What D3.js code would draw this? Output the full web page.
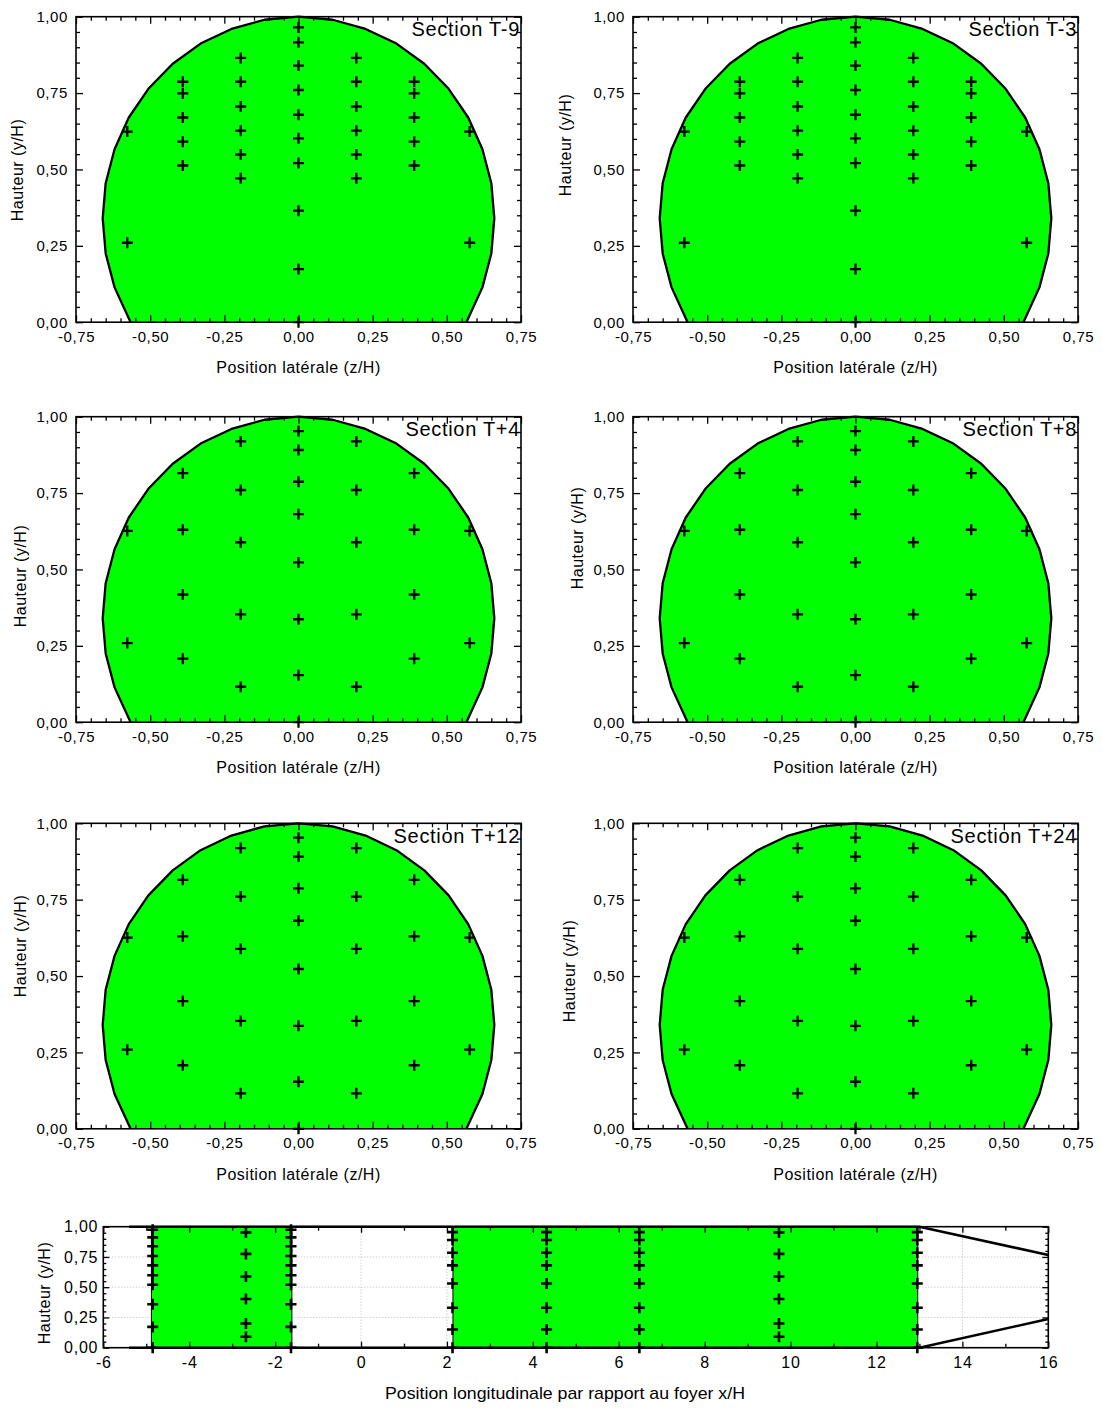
<!DOCTYPE html>
<html><head><meta charset="utf-8">
<script src="https://cdn.jsdelivr.net/npm/d3@7"></script>
<style>
body{margin:0;background:#fff;}
svg{display:block;font-family:"Liberation Sans",Arial,sans-serif;}
</style></head><body>
<svg id="chart" width="1102" height="1408"></svg>
<script>
// ---------- DATA ----------
const sectionNames = ["Section T-9","Section T-3","Section T+4","Section T+8","Section T+12","Section T+24"];
const sectionProfile = ["A","A","B","B","B","B"];
const latTicks = [-0.75,-0.5,-0.25,0,0.25,0.5,0.75];
const heightTicks = [0,0.25,0.5,0.75,1];
// section outline (z/H, y/H)
const outlineZ = [-0.566,-0.620,-0.650,-0.660,-0.650,-0.620,-0.572,-0.506,-0.424,-0.330,-0.226,-0.115,0,0.115,0.226,0.330,0.424,0.506,0.572,0.620,0.650,0.660,0.650,0.620,0.566];
const outlineY = [0,0.114,0.225,0.340,0.455,0.566,0.670,0.764,0.846,0.912,0.960,0.990,1.0,0.990,0.960,0.912,0.846,0.764,0.670,0.566,0.455,0.340,0.225,0.114,0];
// probe columns (lateral positions)
const probeZ = [0, 0.195, 0.39, 0.577];
// profile A (T-9, T-3): heights per column
const heightsA0 = [0.965,0.916,0.840,0.760,0.679,0.602,0.521,0.365,0.174,0];
const heightsA1 = [0.865,0.787,0.706,0.627,0.549,0.471];
const heightsA2 = [0.787,0.749,0.670,0.591,0.513];
const heightsA3 = [0.624,0.260];
// profile B (T+4 ... T+24)
const heightsB0 = [0.953,0.891,0.787,0.681,0.523,0.337,0.154,0];
const heightsB1 = [0.919,0.760,0.589,0.353,0.116];
const heightsB2 = [0.815,0.630,0.418,0.208];
const heightsB3 = [0.626,0.259];
// longitudinal view
const longTicks = [-6,-4,-2,0,2,4,6,8,10,12,14,16];
const longColsX = [-4.85,-2.68,-1.63,2.13,4.32,6.48,9.73,12.95];
const longColsProfile = ["A","C","A","B","B","B","C","B"];
const heightsLongA = [0.975,0.912,0.838,0.758,0.680,0.599,0.520,0.359,0.172,0];
const heightsLongB = [0.955,0.890,0.785,0.680,0.530,0.330,0.150,0];
const heightsLongC = [0.953,0.775,0.589,0.403,0.200,0.090];
const bandStart = [-4.88, 2.14];
const bandEnd = [-1.61, 12.96];
const tunnelTopX = [-5.4, 13, 16], tunnelTopY = [1, 1, 0.766];
const tunnelBotX = [-5.4, 13, 16], tunnelBotY = [0, 0, 0.237];

// ---------- RENDER ----------
const svg = d3.select("#chart");
const loc = d3.formatLocale({decimal:",", thousands:".", grouping:[3], currency:["","€"], minus:"-"});
const fmt2 = loc.format(".2f");
const fmtInt = loc.format("d");
const GREEN = "#00ff00";

const profiles = {
  A:[heightsA0,heightsA1,heightsA2,heightsA3],
  B:[heightsB0,heightsB1,heightsB2,heightsB3]
};

function plus(g, cx, cy, size, sw){
  g.append("path")
    .attr("d", `M${cx-size},${cy}H${cx+size}M${cx},${cy-size}V${cy+size}`)
    .attr("stroke","#000").attr("stroke-width",sw).attr("fill","none");
}

const panelW = 445, panelH = 305.5;
const colX = [76, 633];
const rowY = [16.7, 416.7, 823.3];
const yTitlePos = [[17,170],[565,145],[20,576],[577,538],[20,946],[569,971]];

function drawPanel(i){
  const x0 = colX[i%2], y0 = rowY[Math.floor(i/2)];
  const g = svg.append("g").attr("transform",`translate(${x0},${y0})`);
  const x = d3.scaleLinear().domain([-0.75,0.75]).range([0,panelW]);
  const y = d3.scaleLinear().domain([0,1]).range([panelH,0]);

  // filled section
  const pts = outlineZ.map((z,k)=>[z, outlineY[k]]);
  const line = d3.line().x(d=>x(d[0])).y(d=>y(d[1]));
  g.append("path").attr("d", line(pts)+"Z").attr("fill",GREEN).attr("stroke","none");
  g.append("path").attr("d", line(pts)).attr("fill","none").attr("stroke","#000").attr("stroke-width",2.3).attr("stroke-linejoin","round");

  // probes
  const prof = profiles[sectionProfile[i]];
  prof.forEach((hs,c)=>{
    const zs = probeZ[c]===0 ? [0] : [-probeZ[c], probeZ[c]];
    zs.forEach(z=> hs.forEach(h=> plus(g, x(z), y(h), 5.5, 2.3)));
  });

  // axes (inward ticks)
  const minorX = d3.range(-0.75,0.7501,0.05).filter(v=>Math.abs(Math.round(v*4)-v*4)>1e-6);
  const minorY = d3.range(0,1.0001,0.05).filter(v=>Math.abs(Math.round(v*4)-v*4)>1e-6);
  const styleAxis = s => { s.select(".domain").remove(); s.selectAll("line").attr("stroke","#000").attr("stroke-width",1.3); s.selectAll("text").attr("font-size",15).attr("fill","#000").attr("letter-spacing","0.6px").attr("font-family",'"Liberation Sans",Arial,sans-serif'); };
  g.append("g").attr("transform",`translate(0,${panelH})`).call(d3.axisBottom(x).tickValues(latTicks).tickFormat(fmt2).tickSize(-7).tickSizeOuter(0).tickPadding(9)).call(styleAxis);
  g.append("g").attr("transform",`translate(0,${panelH})`).call(d3.axisBottom(x).tickValues(minorX).tickFormat("").tickSize(-4).tickSizeOuter(0)).call(styleAxis);
  g.append("g").call(d3.axisTop(x).tickValues(latTicks).tickFormat("").tickSize(-7).tickSizeOuter(0)).call(styleAxis);
  g.append("g").call(d3.axisTop(x).tickValues(minorX).tickFormat("").tickSize(-4).tickSizeOuter(0)).call(styleAxis);
  g.append("g").call(d3.axisLeft(y).tickValues(heightTicks).tickFormat(fmt2).tickSize(-7).tickSizeOuter(0).tickPadding(8)).call(styleAxis);
  g.append("g").call(d3.axisLeft(y).tickValues(minorY).tickFormat("").tickSize(-4).tickSizeOuter(0)).call(styleAxis);
  g.append("g").attr("transform",`translate(${panelW},0)`).call(d3.axisRight(y).tickValues(heightTicks).tickFormat("").tickSize(-7).tickSizeOuter(0)).call(styleAxis);
  g.append("g").attr("transform",`translate(${panelW},0)`).call(d3.axisRight(y).tickValues(minorY).tickFormat("").tickSize(-4).tickSizeOuter(0)).call(styleAxis);
  g.append("rect").attr("width",panelW).attr("height",panelH).attr("fill","none").attr("stroke","#000").attr("stroke-width",1.6);

  // labels
  g.append("text").attr("x",panelW-1).attr("y",19.5).attr("text-anchor","end").attr("font-size",20).attr("letter-spacing","0.7px").text(sectionNames[i]);
  g.append("text").attr("x",panelW/2).attr("y",panelH+51).attr("text-anchor","middle").attr("font-size",16).attr("letter-spacing","0.5px").text("Position latérale (z/H)");
  const [tx,ty] = yTitlePos[i];
  svg.append("text").attr("transform",`translate(${tx},${ty}) rotate(-90)`).attr("text-anchor","middle").attr("dy","0.35em").attr("font-size",16).attr("letter-spacing","0.5px").text("Hauteur (y/H)");
}
for(let i=0;i<6;i++) drawPanel(i);

// ---------- LONGITUDINAL VIEW ----------
(function(){
  const x0 = 103.3, y0 = 1226.7, w = 945, h = 121;
  const g = svg.append("g").attr("transform",`translate(${x0},${y0})`);
  const x = d3.scaleLinear().domain([-6,16]).range([0,w]);
  const y = d3.scaleLinear().domain([0,1]).range([h,0]);
  // grid
  const grid = g.append("g").attr("stroke","#bbb").attr("stroke-width",1).attr("stroke-dasharray","1,2");
  [0.25,0.5,0.75].forEach(v=>grid.append("line").attr("x1",0).attr("x2",w).attr("y1",y(v)).attr("y2",y(v)));
  longTicks.slice(1,-1).forEach(v=>grid.append("line").attr("x1",x(v)).attr("x2",x(v)).attr("y1",0).attr("y2",h));
  // green bands
  bandStart.forEach((s,k)=>{
    g.append("rect").attr("x",x(s)).attr("y",y(1)).attr("width",x(bandEnd[k])-x(s)).attr("height",y(0)-y(1))
      .attr("fill",GREEN).attr("stroke","#000").attr("stroke-width",1);
  });
  // tunnel outline
  const ln = d3.line().x(d=>x(d[0])).y(d=>y(d[1]));
  g.append("path").attr("d",ln(tunnelTopX.map((v,k)=>[v,tunnelTopY[k]]))).attr("fill","none").attr("stroke","#000").attr("stroke-width",2.6);
  g.append("path").attr("d",ln(tunnelBotX.map((v,k)=>[v,tunnelBotY[k]]))).attr("fill","none").attr("stroke","#000").attr("stroke-width",2.6);
  // probes
  const lp = {A:heightsLongA, B:heightsLongB, C:heightsLongC};
  longColsX.forEach((cx,k)=> lp[longColsProfile[k]].forEach(hv=> plus(g, x(cx), y(hv), 5.5, 2.6)));
  // axes
  const styleAxis = s => { s.select(".domain").remove(); s.selectAll("line").attr("stroke","#000").attr("stroke-width",1.3); s.selectAll("text").attr("font-size",16).attr("fill","#000").attr("letter-spacing","0.8px").attr("font-family",'"Liberation Sans",Arial,sans-serif'); };
  const minorX = d3.range(-6,16.01,1).filter(v=>v%2!==0);
  const minorY = d3.range(0,1.0001,0.05).filter(v=>Math.abs(Math.round(v*4)-v*4)>1e-6);
  g.append("g").attr("transform",`translate(0,${h})`).call(d3.axisBottom(x).tickValues(longTicks).tickFormat(fmtInt).tickSize(-6).tickSizeOuter(0).tickPadding(9)).call(styleAxis);
  g.append("g").attr("transform",`translate(0,${h})`).call(d3.axisBottom(x).tickValues(minorX).tickFormat("").tickSize(-4).tickSizeOuter(0)).call(styleAxis);
  g.append("g").call(d3.axisTop(x).tickValues(longTicks).tickFormat("").tickSize(-6).tickSizeOuter(0)).call(styleAxis);
  g.append("g").call(d3.axisTop(x).tickValues(minorX).tickFormat("").tickSize(-4).tickSizeOuter(0)).call(styleAxis);
  g.append("g").call(d3.axisLeft(y).tickValues(heightTicks).tickFormat(fmt2).tickSize(-6).tickSizeOuter(0).tickPadding(5)).call(styleAxis);
  g.append("g").call(d3.axisLeft(y).tickValues(minorY).tickFormat("").tickSize(-3).tickSizeOuter(0)).call(styleAxis);
  g.append("g").attr("transform",`translate(${w},0)`).call(d3.axisRight(y).tickValues(heightTicks).tickFormat("").tickSize(-6).tickSizeOuter(0)).call(styleAxis);
  g.append("g").attr("transform",`translate(${w},0)`).call(d3.axisRight(y).tickValues(minorY).tickFormat("").tickSize(-3).tickSizeOuter(0)).call(styleAxis);
  g.append("rect").attr("width",w).attr("height",h).attr("fill","none").attr("stroke","#000").attr("stroke-width",1.6);
  svg.append("text").attr("x",565).attr("y",1399).attr("text-anchor","middle").attr("font-size",17).attr("textLength",360).attr("lengthAdjust","spacingAndGlyphs").text("Position longitudinale par rapport au foyer x/H");
  svg.append("text").attr("transform",`translate(44,1293) rotate(-90)`).attr("text-anchor","middle").attr("dy","0.35em").attr("font-size",16).attr("letter-spacing","0.5px").text("Hauteur (y/H)");
})();
</script>
</body></html>
